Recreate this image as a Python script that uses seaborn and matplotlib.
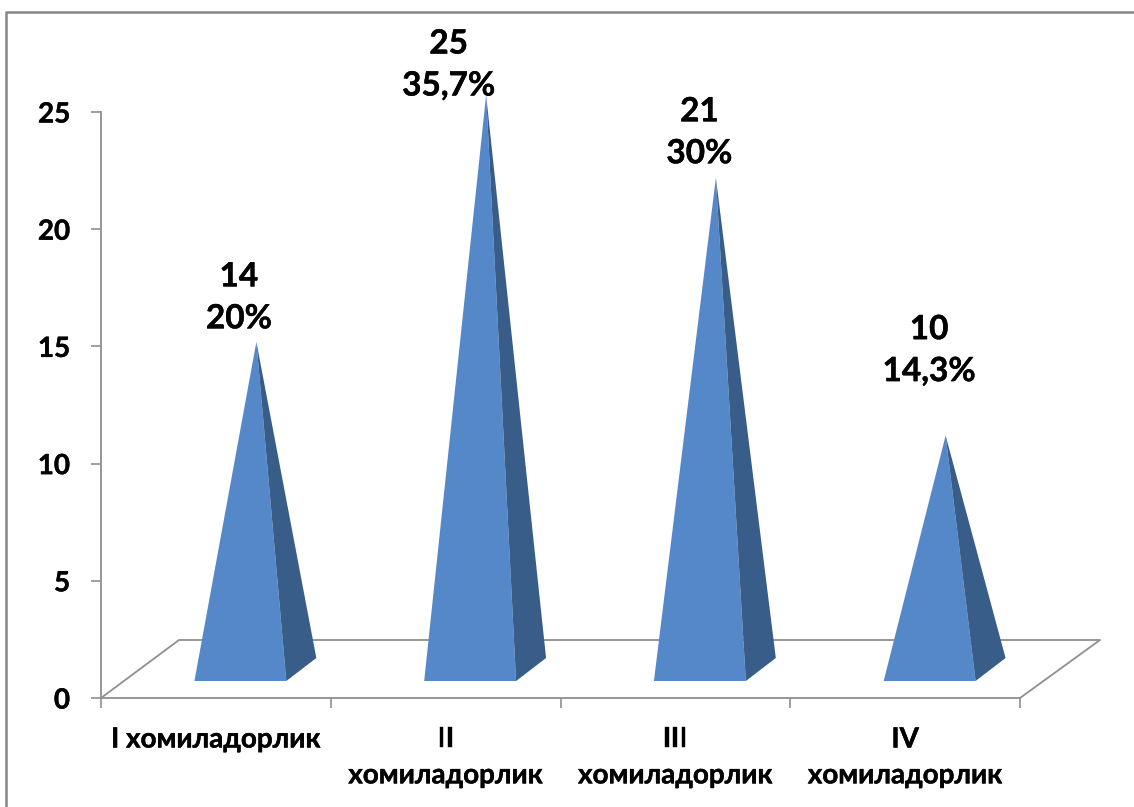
"""Pyramid chart of pregnancy order counts, drawn over a seaborn bar layout."""

import matplotlib
matplotlib.use("Agg")

import matplotlib.patheffects as pe
import matplotlib.pyplot as plt
import numpy as np
import pandas as pd
import seaborn as sns
from matplotlib.lines import Line2D
from matplotlib.patches import Polygon

# ── Data ─────────────────────────────────────────────────────────────────────
categories = ["I хомиладорлик", "II\nхомиладорлик", "III\nхомиладорлик", "IV\nхомиладорлик"]
counts = [14, 25, 21, 10]
percents = ["20%", "35,7%", "30%", "14,3%"]
y_ticks = [0, 5, 10, 15, 20, 25]

# ── Layout (pixels of the 1134x807 figure) ───────────────────────────────────
W, H = 1134, 807
LEFT, RIGHT, BOTTOM, TOP = 101, 1020, 698, 112
PX_X = 4 / (RIGHT - LEFT)      # categories per pixel
PX_Y = 25 / (BOTTOM - TOP)     # value units per pixel
GREY = "#8f8f8f"
FRONT = "#5588c8"
SIDE = "#385d89"

# offset of each two-line label from (category centre, value), in pixels
label_offsets = [(23, 72), (3, 47), (24, 73), (24, 113)]

sns.set_style("white")
plt.rcParams["font.family"] = ["Lato", "Noto Sans", "DejaVu Sans"]
plt.rcParams["font.weight"] = "bold"

df = pd.DataFrame({"group": categories, "count": counts})

fig = plt.figure(figsize=(W / 100, H / 100), dpi=100)
ax = fig.add_axes([LEFT / W, 1 - BOTTOM / H, (RIGHT - LEFT) / W, (BOTTOM - TOP) / H])

# bars only give the positions, the pyramids are built on them
sns.barplot(data=df, x="group", y="count", width=0.4, color=FRONT, ax=ax)
ax.set_xlim(-0.5, 3.5)
ax.set_ylim(0, 25)
ax.set_xlabel("")
ax.set_ylabel("")

# ── Floor of the 3D box ──────────────────────────────────────────────────────
floor_dx, floor_dy = 80 * PX_X, 58 * PX_Y
ax.plot([-0.5, -0.5 + 78 * PX_X, 3.5 + floor_dx, 3.5], [0, floor_dy, floor_dy, 0],
        color=GREY, lw=1.3, clip_on=False, zorder=1)

# ── Pyramids ─────────────────────────────────────────────────────────────────
base_y = 17 * PX_Y
back_y = 40 * PX_Y
tip_lift = 28 * PX_Y
for bar, value in zip(list(ax.patches), counts):
    bar.set_visible(False)
    x0 = bar.get_x() + 24.5 * PX_X
    x1 = x0 + bar.get_width()
    back_x = x1 + 30 * PX_X
    tip_x = (x0 + x1) / 2 + 16 * PX_X
    tip_y = min(value + tip_lift, 25 + base_y)
    ax.add_patch(Polygon([(x0, base_y), (x1, base_y), (tip_x, tip_y)],
                         closed=True, fc=FRONT, ec="none", zorder=3, clip_on=False))
    ax.add_patch(Polygon([(x1, base_y), (back_x, back_y), (tip_x, tip_y)],
                         closed=True, fc=SIDE, ec="none", zorder=3, clip_on=False))

# ── Labels ───────────────────────────────────────────────────────────────────
thick = [pe.withStroke(linewidth=0.3, foreground="black")]
for i, (value, pct) in enumerate(zip(counts, percents)):
    ax.annotate(f"{value}\n{pct}", xy=(i, value), xytext=label_offsets[i],
                textcoords="offset pixels", ha="center", va="center",
                fontsize=24, linespacing=1.54, color="black",
                annotation_clip=False, zorder=5, path_effects=thick)

# ── Axes ─────────────────────────────────────────────────────────────────────
sns.despine(ax=ax)
for side in ["left", "bottom"]:
    ax.spines[side].set_color(GREY)
    ax.spines[side].set_linewidth(1.3)

ax.set_yticks(y_ticks)
ax.tick_params(axis="y", length=7.2, width=1.2, color=GREY, pad=15,
               left=True, labelsize=20, labelcolor="black")
ax.set_xticks(np.arange(-0.5, 4), minor=True)
ax.tick_params(axis="x", which="minor", bottom=True, length=7.2, width=1.2, color=GREY)
ax.tick_params(axis="x", which="major", bottom=False, pad=17, labelsize=20, labelcolor="black")
for label in ax.get_xticklabels() + ax.get_yticklabels():
    label.set_path_effects(thick)
for label in ax.get_xticklabels():
    label.set_linespacing(1.47)

# ── Outer frame ──────────────────────────────────────────────────────────────
fig.add_artist(Line2D([6 / W, 6 / W, 1], [0, 1 - 12 / H, 1 - 12 / H],
                      color="#868686", lw=1.8, transform=fig.transFigure))

fig.savefig("out.png", dpi=100)
plt.close(fig)
